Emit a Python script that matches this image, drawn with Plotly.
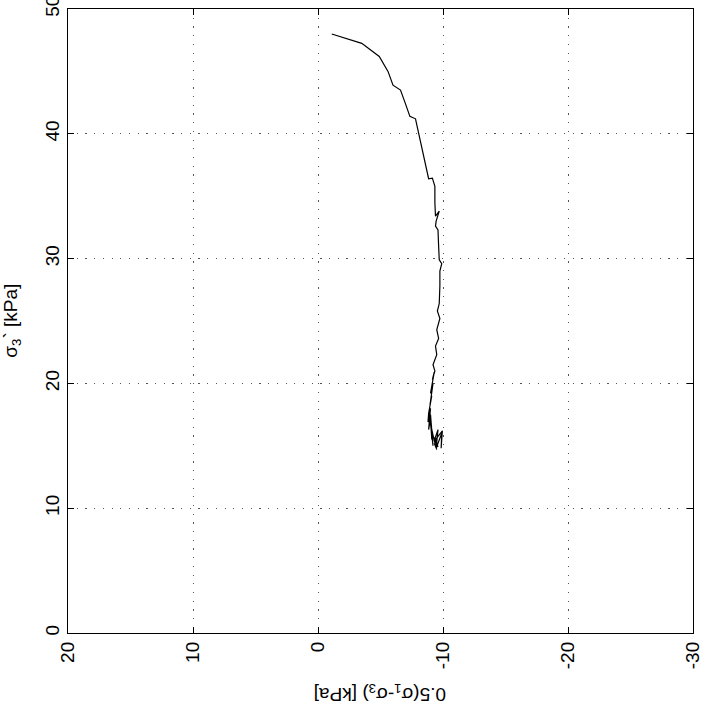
import plotly.graph_objects as go

# 0.5(sigma1 - sigma3) [kPa]  (x, reversed axis)
q_values = [-1.1, -3.5, -4.9, -5.6, -6.0, -6.6, -7.0, -7.35, -7.8, -8.3, -8.85, -9.15,
            -9.35, -9.35, -9.4, -9.7, -9.45, -9.4, -9.6, -9.65, -9.7, -9.9, -9.75, -9.75,
            -9.7, -9.55, -9.75, -9.5, -9.65, -9.4, -9.5, -9.2, -9.35, -9.15, -9.3, -9.0,
            -9.2, -8.95, -9.1, -8.85, -8.8, -9.0, -8.85, -9.0, -9.1, -9.0, -9.2, -9.0,
            -9.3, -9.6, -9.45, -9.9, -9.85, -9.95, -9.4, -9.6, -9.2, -9.5, -9.3]
# sigma3' [kPa]  (y)
s3_values = [48.0, 47.25, 46.2, 45.0, 43.9, 43.5, 42.4, 41.4, 41.2, 38.9, 36.4, 36.45,
             35.8, 34.5, 33.4, 33.8, 33.0, 32.6, 32.3, 31.0, 29.9, 29.6, 29.0, 27.8,
             26.4, 25.8, 25.2, 24.3, 23.6, 23.0, 22.3, 21.5, 21.0, 20.3, 20.9, 19.2,
             20.0, 18.2, 19.0, 17.6, 16.9, 18.0, 16.3, 17.2, 15.5, 17.5, 15.0, 16.8,
             15.4, 16.3, 14.8, 16.0, 14.8, 16.2, 15.5, 14.9, 15.8, 14.7, 15.2]

x_ticks = [20, 10, 0, -10, -20, -30]
y_ticks = [0, 10, 20, 30, 40, 50]

FONT = "Liberation Sans, Arial, Helvetica, sans-serif"

fig = go.Figure()
fig.add_trace(go.Scatter(x=q_values, y=s3_values, mode="lines",
                         line=dict(color="black", width=1.2), showlegend=False))

axis_common = dict(
    showline=True, linecolor="black", linewidth=1.3, mirror="allticks",
    ticks="inside", ticklen=6, tickcolor="black", tickwidth=1,
    showgrid=True, gridcolor="#555555", gridwidth=1, griddash="1.2px,7.5px",
    zeroline=False, tickangle=-90, automargin=False, ticklabeloverflow="allow",
    tickfont=dict(family=FONT, size=19, color="black"),
)

fig.update_xaxes(range=[20, -30], tickvals=x_ticks, ticktext=[str(v) for v in x_ticks],
                 **axis_common)
fig.update_yaxes(range=[0, 50], tickvals=y_ticks, ticktext=[str(v) for v in y_ticks],
                 **axis_common)

fig.add_annotation(text="σ<sub>3</sub>` [kPa]", textangle=-90,
                   xref="paper", yref="paper", x=-0.090, y=0.5, showarrow=False,
                   xanchor="center", yanchor="middle",
                   font=dict(family=FONT, size=19, color="black"))

fig.add_annotation(text="0.5(σ<sub>1</sub>-σ<sub>3</sub>) [kPa]", textangle=180,
                   xref="paper", yref="paper", x=0.5, y=-0.097, showarrow=False,
                   xanchor="center", yanchor="middle",
                   font=dict(family=FONT, size=19, color="black"))

fig.update_layout(
    width=701, height=724,
    margin=dict(l=68, r=8, t=9, b=91),
    paper_bgcolor="white", plot_bgcolor="white",
    font=dict(family=FONT, color="black"),
)

fig.write_html("out.html", config={"displayModeBar": False},
               post_script="document.body.style.margin='0';")
